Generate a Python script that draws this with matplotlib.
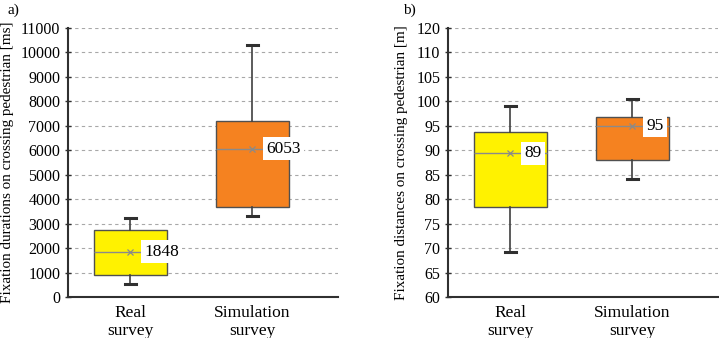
import matplotlib
matplotlib.use("Agg")
import matplotlib.pyplot as plt

plt.rcParams['font.family'] = ['Liberation Serif', 'DejaVu Serif']

# Categories shared by both panels
categories = ['Real\nsurvey', 'Simulation\nsurvey']
box_colors = ['#FFF200', '#F58220']

# a) fixation durations [ms]
dur_whislo = [530, 3330]
dur_q1 = [890, 3700]
dur_med = [1848, 6053]
dur_q3 = [2740, 7200]
dur_whishi = [3230, 10320]
dur_mean = [1848, 6053]
dur_ticks = [0, 1000, 2000, 3000, 4000, 5000, 6000, 7000, 8000, 9000, 10000, 11000]
dur_ticklabels = ['0', '1000', '2000', '3000', '4000', '5000', '6000', '7000',
                  '8000', '9000', '10000', '11000']

# b) fixation distances [m]
dist_whislo = [69.2, 84.2]
dist_q1 = [78.3, 88.1]
dist_med = [89.4, 95.0]
dist_q3 = [93.8, 96.9]
dist_whishi = [99.0, 100.4]
dist_mean = [89.4, 95.0]
dist_ticks = [60, 65, 70, 75, 80, 85, 90, 95, 100, 105, 110, 115]
dist_ticklabels = ['60', '65', '70', '75', '80', '85', '90', '95', '100', '105', '110', '120']


def draw_panel(ax, whislo, q1, med, q3, whishi, mean, ticks, ticklabels,
               ylabel, label_x):
    stats = []
    for i in range(len(categories)):
        stats.append(dict(whislo=whislo[i], q1=q1[i], med=med[i], q3=q3[i],
                          whishi=whishi[i], mean=mean[i], fliers=[]))
    bp = ax.bxp(stats, positions=[0, 1], widths=0.6, patch_artist=True,
                showmeans=True, capwidths=0.09,
                boxprops=dict(edgecolor='#505050', linewidth=1.0),
                medianprops=dict(color='#8a8a8a', linewidth=1.0),
                whiskerprops=dict(color='#404040', linewidth=1.2),
                capprops=dict(color='#303030', linewidth=2.2),
                meanprops=dict(marker='x', markeredgecolor='#8a8a8a',
                               markersize=4, markeredgewidth=0.9))
    for patch, c in zip(bp['boxes'], box_colors):
        patch.set_facecolor(c)
    for i, m in enumerate(mean):
        ax.annotate(f'{m:.0f}', (i, m), xytext=(10, 0), textcoords='offset points',
                    ha='left', va='center', fontsize=12.5, zorder=5,
                    bbox=dict(fc='white', ec='none', pad=2.5))

    ax.set_xlim(-0.51, 1.7)
    ax.set_ylim(ticks[0], ticks[-1])
    ax.set_yticks(ticks)
    ax.set_yticklabels(ticklabels)
    ax.set_xticks([0, 1])
    ax.set_xticklabels(categories, fontsize=12.5, linespacing=1.1)
    ax.tick_params(axis='x', length=0, pad=6)
    ax.tick_params(axis='y', direction='inout', length=5, width=1.0,
                   color='#303030', labelsize=11.5, pad=3)
    ax.grid(axis='y', color='#a8a8a8', linestyle=(0, (3, 3)), linewidth=0.8)
    ax.set_axisbelow(True)
    for s in ['top', 'right']:
        ax.spines[s].set_visible(False)
    for s in ['left', 'bottom']:
        ax.spines[s].set_color('#303030')
        ax.spines[s].set_linewidth(1.5)
    ax.set_ylabel(ylabel, fontsize=10.9)
    ax.yaxis.set_label_coords(label_x, 0.5)


fig = plt.figure(figsize=(7.19, 3.38), dpi=100)
ax1 = fig.add_axes([0.0946, 0.1213, 0.3755, 0.7959])
ax2 = fig.add_axes([0.6231, 0.1213, 0.3755, 0.7959])

draw_panel(ax1, dur_whislo, dur_q1, dur_med, dur_q3, dur_whishi, dur_mean,
           dur_ticks, dur_ticklabels,
           'Fixation durations on crossing pedestrian [ms]', -0.2)
draw_panel(ax2, dist_whislo, dist_q1, dist_med, dist_q3, dist_whishi, dist_mean,
           dist_ticks, dist_ticklabels,
           'Fixation distances on crossing pedestrian [m]', -0.150)

fig.text(0.011, 0.99, 'a)', fontsize=11, va='top', ha='left')
fig.text(0.560, 0.99, 'b)', fontsize=11, va='top', ha='left')

fig.savefig('out.png', dpi=100)
